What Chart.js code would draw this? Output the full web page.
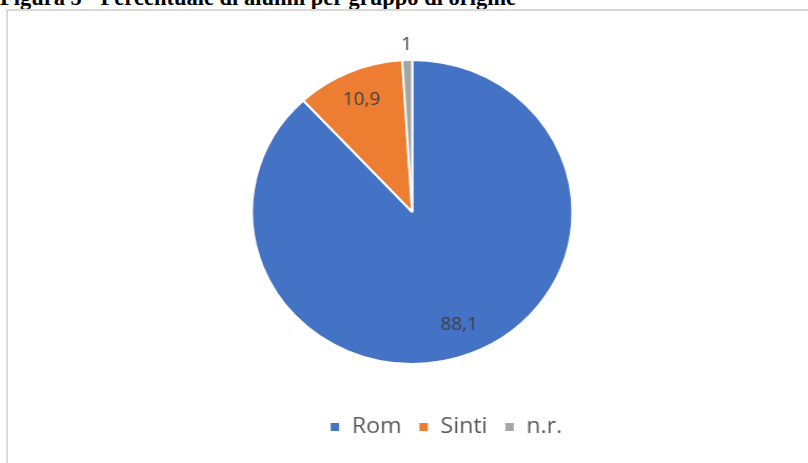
<!DOCTYPE html>
<html>
<head>
<meta charset="utf-8">
<script src="https://cdn.jsdelivr.net/npm/chart.js@4.4.1/dist/chart.umd.min.js"></script>
<style>
    html, body { margin: 0; padding: 0; background: #fff; width: 808px; height: 463px; overflow: hidden; }
    #title { position: absolute; left: 0; top: -13px; font: bold 22.5px "Liberation Serif", serif; line-height: 1; white-space: nowrap; color: #000; }
    #frame { position: absolute; left: 6px; top: 9px; width: 900px; height: 600px; border: 2px solid #d9d9d9; box-sizing: border-box; background: #fff; }
    #wrap { position: absolute; left: 8px; top: 11px; width: 759px; height: 452px; transform: scaleX(1.054); transform-origin: 0 0; }
</style>
</head>
<body>
<div id="title">Figura 5 - Percentuale di alunni per gruppo di origine</div>
<div id="frame"></div>
<div id="wrap"><canvas id="chart" width="759" height="452"></canvas></div>
<script>
    var categories = ['Rom', 'Sinti', 'n.r.'];
    var percentuali = [88.1, 10.9, 1];
    var colori = ['#4472C4', '#ED7D31', '#A5A5A5'];

    // etichette dei valori sulle fette (virgola decimale)
    var sliceLabels = {
        id: 'sliceLabels',
        afterDatasetsDraw: function (chart) {
            var ctx = chart.ctx,
                meta = chart.getDatasetMeta(0),
                total = percentuali.reduce(function (a, b) { return a + b; }, 0);

            ctx.save();
            ctx.font = '18px "Open Sans"';
            ctx.fillStyle = '#404040';
            ctx.textAlign = 'center';
            ctx.textBaseline = 'middle';

            meta.data.forEach(function (arc, i) {
                var p = arc.getProps(['x', 'y', 'startAngle', 'endAngle', 'outerRadius'], true),
                    mid = (p.startAngle + p.endAngle) / 2,
                    small = percentuali[i] / total < 0.03,
                    r = p.outerRadius * (small ? 1.1 : 0.8);

                ctx.fillText(String(percentuali[i]).replace('.', ','), p.x + Math.cos(mid) * r, p.y + Math.sin(mid) * r);
            });
            ctx.restore();
        }
    };

    // la legenda nell'originale non e' centrata sotto la torta
    var legendShift = {
        id: 'legendShift',
        afterLayout: function (chart) {
            chart.legend.left += 32;
            chart.legend.right += 32;
        }
    };

    new Chart(document.getElementById('chart'), {
        type: 'pie',
        data: {
            labels: categories,
            datasets: [{
                data: percentuali,
                backgroundColor: colori,
                borderColor: '#ffffff',
                borderWidth: 2,
                radius: 152
            }]
        },
        options: {
            responsive: false,
            animation: false,
            devicePixelRatio: 1,
            layout: { padding: { top: 13, bottom: 15, left: 8, right: 0 } },
            plugins: {
                tooltip: { enabled: false },
                legend: {
                    position: 'bottom',
                    labels: {
                        boxWidth: 10,
                        boxHeight: 10,
                        padding: 16,
                        color: '#595959',
                        font: { family: '"Open Sans"', size: 22 }
                    }
                }
            }
        },
        plugins: [sliceLabels, legendShift]
    });
</script>
</body>
</html>
